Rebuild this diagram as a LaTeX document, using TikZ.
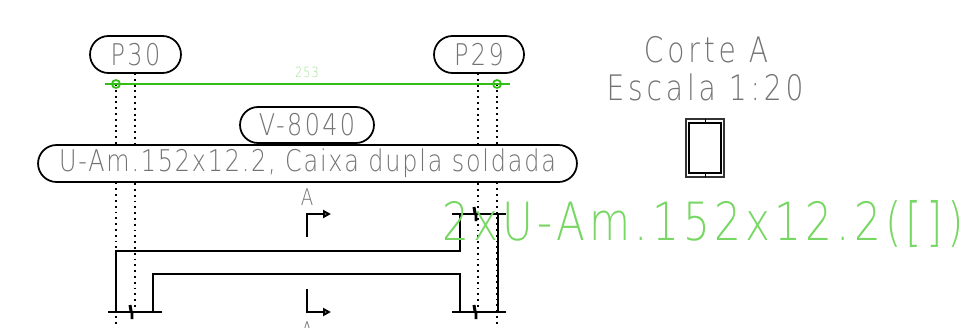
\documentclass[tikz,border=0pt]{standalone}
\usepackage{fontspec}
\usetikzlibrary{shapes.misc,arrows.meta}
\newfontfamily\cadfont[FakeStretch=0.8,LetterSpace=8]{DejaVu Sans ExtraLight}
\newfontfamily\cadlong[FakeStretch=0.8,LetterSpace=6]{DejaVu Sans ExtraLight}
\newfontfamily\cadtitle[FakeStretch=0.8,LetterSpace=11]{DejaVu Sans ExtraLight}
\definecolor{cadgreen}{RGB}{50,190,20}
\definecolor{cadlight}{RGB}{120,215,100}
\tikzset{
  pillbox/.style={rounded rectangle,draw=black,fill=white,line width=1pt,inner sep=0pt,text=black!55,font=\cadfont\fontsize{17}{17}\selectfont},
  caption/.style={inner sep=0pt,text=black!55,font=\cadtitle\fontsize{#1}{#1}\selectfont},
  dotline/.style={line width=1.1pt,dash pattern=on 1.1pt off 2.2pt},
  beamline/.style={line width=1.1pt},
  cutarrow/.style={line width=1.1pt,-{Triangle[open,length=4.5pt,width=4.5pt]}}
}
\begin{document}
\begin{tikzpicture}[x=0.02cm,y=-0.02cm]
\useasboundingbox (0,0) rectangle (961,328);

% pontos do eixo
\def\xa{116}
\def\xb{135}
\def\xc{478}
\def\xd{497}
\coordinate (la) at (\xa,84);
\coordinate (lb) at (\xb,73);
\coordinate (lc) at (\xc,73);
\coordinate (ld) at (\xd,84);
\coordinate (ea) at (\xa,325);
\coordinate (eb) at (\xb,312);
\coordinate (ec) at (\xc,312);
\coordinate (ed) at (\xd,325);

% linhas pontilhadas
\draw[dotline] (la) -- (ea);
\draw[dotline] (lb) -- (eb);
\draw[dotline] (lc) -- (ec);
\draw[dotline] (ld) -- (ed);

% etiquetas
\node[pillbox,minimum width=1.82cm,minimum height=0.74cm] (p30) at (135.5,54.5) {P30};
\node[pillbox,minimum width=1.80cm,minimum height=0.74cm] (p29) at (479,54.5) {P29};
\node[pillbox,minimum width=2.68cm,minimum height=0.72cm] (v8040) at (307,125) {V-8040};
\node[pillbox,minimum width=10.78cm,minimum height=0.74cm,font=\cadlong\fontsize{17}{17}\selectfont] (uam) at (307.5,163.5) {U-Am.152x12.2, Caixa dupla soldada};

% cota
\coordinate (ca) at (105,84);
\coordinate (cb) at (510,84);
\draw[cadgreen,line width=1pt] (ca) -- (cb);
\draw[cadgreen,line width=1pt] (la) circle (4);
\draw[cadgreen,line width=1pt] (ld) circle (4);
\node[inner sep=0pt,text=cadlight!70,font=\cadfont\fontsize{8}{8}\selectfont] (cota) at (307,72) {253};

% viga
\coordinate (v1) at (116,312);
\coordinate (v2) at (116,251);
\coordinate (v3) at (460,251);
\coordinate (v4) at (460,214);
\coordinate (v5) at (153,312);
\coordinate (v6) at (153,274);
\coordinate (v7) at (460,274);
\coordinate (v8) at (460,312);
\coordinate (v9) at (498,214);
\coordinate (v10) at (498,312);
\draw[beamline] (v1) -- (v2) -- (v3) -- (v4);
\draw[beamline] (v5) -- (v6) -- (v7) -- (v8);
\draw[beamline] (v9) -- (v10);
\coordinate (b1) at (108,312);
\coordinate (b2) at (162,312);
\coordinate (b3) at (452,312);
\coordinate (b4) at (506,312);
\coordinate (b5) at (452,214);
\coordinate (b6) at (506,214);
\draw[beamline] (b1) -- (b2);
\draw[beamline] (b3) -- (b4);
\draw[beamline] (b5) -- (b6);

% marcas de corte da linha
\foreach \x/\y in {131/312,475/312,475/214}
  \draw[line width=1.7pt] (\x-1,\y-7) -- (\x,\y-1) -- (\x+1,\y+1) -- (\x+1,\y+7);

% corte A
\coordinate (ta) at (307,237);
\coordinate (tb) at (307,214);
\coordinate (tc) at (331,214);
\coordinate (ua) at (307,289);
\coordinate (ub) at (307,312);
\coordinate (uc) at (331,312);
\draw[cutarrow] (ta) -- (tb) -- (tc);
\draw[cutarrow] (ua) -- (ub) -- (uc);
\node[caption=13] (atop) at (307,197) {A};
\node[caption=13,anchor=north] (abot) at (307,321) {A};

% titulo e secao
\node[caption=20] (corte) at (706,50) {Corte A};
\node[caption=20] (escala) at (705,87) {Escala 1:20};
\draw[line width=0.8pt,black!80] (686,119) rectangle (724,177);
\draw[line width=1.3pt] (689,123) rectangle (721,173);
\draw[line width=0.5pt] (705,119) -- (705,123);
\draw[line width=0.5pt] (705,173) -- (705,177);

% perfil
\node[inner sep=0pt,text=cadlight,font=\cadfont\fontsize{30}{30}\selectfont] (perfil) at (703,224) {2xU-Am.152x12.2([])};
\end{tikzpicture}
\end{document}
